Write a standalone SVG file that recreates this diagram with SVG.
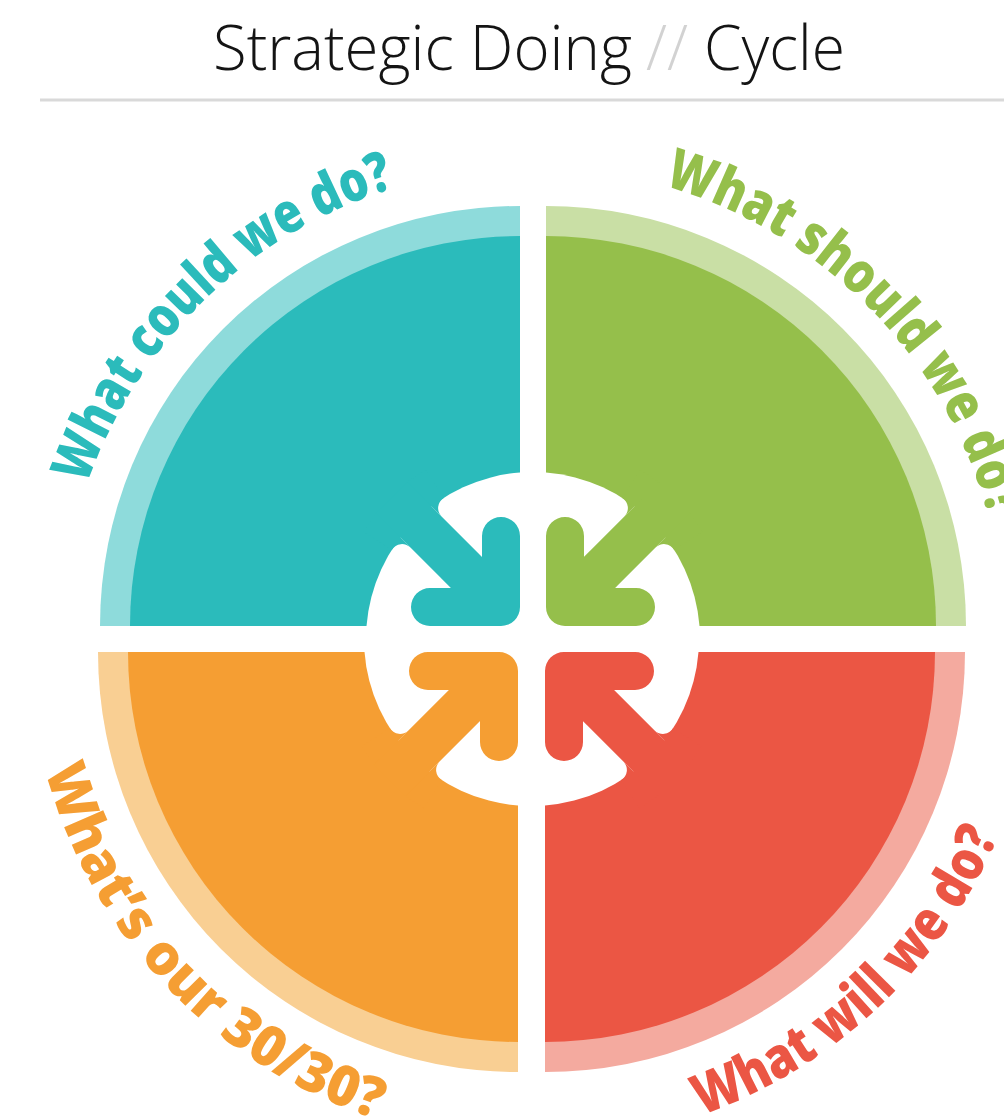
<svg xmlns="http://www.w3.org/2000/svg" xmlns:xlink="http://www.w3.org/1999/xlink" width="1004" height="1119" viewBox="0 0 1004 1119">
  <style>
    .title { font-family: "Open Sans", "Liberation Sans", sans-serif; font-weight: 300; font-size: 62px; fill: #141414; }
    .slash { fill: #d2d2d2; }
    .label { font-family: "Open Sans", "Liberation Sans", sans-serif; font-weight: 800; font-size: 56px; text-anchor: middle; }
    .hub { fill: #ffffff; }
    .arrow { fill: none; stroke-width: 38; stroke-linecap: round; stroke-linejoin: round; }
    .teal .ring { fill: #8edbdb; } .teal .fill { fill: #2bbbbb; } .teal .arrow { stroke: #2bbbbb; } .teal text { fill: #2bbbbb; }
    .green .ring { fill: #c9dfa5; } .green .fill { fill: #95bf4b; } .green .arrow { stroke: #95bf4b; } .green text { fill: #95bf4b; }
    .orange .ring { fill: #f9cf93; } .orange .fill { fill: #f59e33; } .orange .arrow { stroke: #f59e33; } .orange text { fill: #f59e33; }
    .red .ring { fill: #f4aa9f; } .red .fill { fill: #eb5644; } .red .arrow { stroke: #eb5644; } .red text { fill: #eb5644; }
  </style>
  <defs>
    <!-- label baselines: arcs around the hub centre (533,639), each label centred on its arc -->
    <path id="arc-could" d="M63.6 589.7 A472 472 0 0 1 500.1 168.1"/>
    <path id="arc-should" d="M578.2 169.2 A472 472 0 0 1 1003.5 602.0"/>
    <path id="arc-thirty" d="M28.9 669.8 A505 505 0 0 0 475.8 1140.8"/>
    <path id="arc-will" d="M561.6 1143.2 A505 505 0 0 0 1034.5 698.4"/>
  </defs>

  <rect width="1004" height="1119" fill="#ffffff"/>

  <g id="title">
    <text class="title" x="213" y="70" textLength="419" lengthAdjust="spacingAndGlyphs">Strategic Doing</text>
    <text class="title slash" x="646" y="70" textLength="42" lengthAdjust="spacingAndGlyphs">//</text>
    <text class="title" x="704" y="70" textLength="141" lengthAdjust="spacingAndGlyphs">Cycle</text>
    <path d="M40 100 H1004" stroke="#d9d9d9" stroke-width="3"/>
  </g>

  <!-- each quadrant is drawn in local coordinates (upper-left quarter) and mirrored into place -->
  <g id="node-could" class="teal">
    <g transform="translate(533 639)">
      <path class="ring" d="M-13 -13 V-433 A420 420 0 0 0 -433 -13 Z"/>
      <path class="fill" d="M-13 -13 V-403 A390 390 0 0 0 -403 -13 Z"/>
      <path class="hub" d="M-13 -13 V-166.5 A167 167 0 0 0 -166.5 -13 Z"/>
      <path class="fill" d="M-16.3 -47.4 L-125.9 -157 L-157 -125.9 L-47.4 -16.3 Z"/>
      <path class="fill" d="M-91.4 -122.5 L-125.9 -157 L-107.2 -169.3 L-89.3 -141.1 A12 12 0 0 0 -91.4 -122.5 Z"/>
      <path class="fill" d="M-122.5 -91.4 L-157 -125.9 L-169.3 -107.2 L-141.1 -89.3 A12 12 0 0 1 -122.5 -91.4 Z"/>
      <path class="arrow" d="M-32 -103 V-32 H-103"/>
    </g>
    <text class="label"><textPath xlink:href="#arc-could" href="#arc-could" startOffset="50%" textLength="445" lengthAdjust="spacingAndGlyphs">What could we do?</textPath></text>
  </g>

  <g id="node-should" class="green">
    <g transform="translate(533 639) scale(-1 1)">
      <path class="ring" d="M-13 -13 V-433 A420 420 0 0 0 -433 -13 Z"/>
      <path class="fill" d="M-13 -13 V-403 A390 390 0 0 0 -403 -13 Z"/>
      <path class="hub" d="M-13 -13 V-166.5 A167 167 0 0 0 -166.5 -13 Z"/>
      <path class="fill" d="M-16.3 -47.4 L-125.9 -157 L-157 -125.9 L-47.4 -16.3 Z"/>
      <path class="fill" d="M-91.4 -122.5 L-125.9 -157 L-107.2 -169.3 L-89.3 -141.1 A12 12 0 0 0 -91.4 -122.5 Z"/>
      <path class="fill" d="M-122.5 -91.4 L-157 -125.9 L-169.3 -107.2 L-141.1 -89.3 A12 12 0 0 1 -122.5 -91.4 Z"/>
      <path class="arrow" d="M-32 -103 V-32 H-103"/>
    </g>
    <text class="label"><textPath xlink:href="#arc-should" href="#arc-should" startOffset="50%" textLength="486" lengthAdjust="spacingAndGlyphs">What should we do?</textPath></text>
  </g>

  <g id="node-thirty" class="orange">
    <g transform="translate(531 639) scale(1 -1)">
      <path class="ring" d="M-13 -13 V-433 A420 420 0 0 0 -433 -13 Z"/>
      <path class="fill" d="M-13 -13 V-403 A390 390 0 0 0 -403 -13 Z"/>
      <path class="hub" d="M-13 -13 V-166.5 A167 167 0 0 0 -166.5 -13 Z"/>
      <path class="fill" d="M-16.3 -47.4 L-125.9 -157 L-157 -125.9 L-47.4 -16.3 Z"/>
      <path class="fill" d="M-91.4 -122.5 L-125.9 -157 L-107.2 -169.3 L-89.3 -141.1 A12 12 0 0 0 -91.4 -122.5 Z"/>
      <path class="fill" d="M-122.5 -91.4 L-157 -125.9 L-169.3 -107.2 L-141.1 -89.3 A12 12 0 0 1 -122.5 -91.4 Z"/>
      <path class="arrow" d="M-32 -103 V-32 H-103"/>
    </g>
    <text class="label"><textPath xlink:href="#arc-thirty" href="#arc-thirty" startOffset="50%" textLength="502" lengthAdjust="spacingAndGlyphs">What’s our 30/30?</textPath></text>
  </g>

  <g id="node-will" class="red">
    <g transform="translate(532 639) scale(-1 -1)">
      <path class="ring" d="M-13 -13 V-433 A420 420 0 0 0 -433 -13 Z"/>
      <path class="fill" d="M-13 -13 V-403 A390 390 0 0 0 -403 -13 Z"/>
      <path class="hub" d="M-13 -13 V-166.5 A167 167 0 0 0 -166.5 -13 Z"/>
      <path class="fill" d="M-16.3 -47.4 L-125.9 -157 L-157 -125.9 L-47.4 -16.3 Z"/>
      <path class="fill" d="M-91.4 -122.5 L-125.9 -157 L-107.2 -169.3 L-89.3 -141.1 A12 12 0 0 0 -91.4 -122.5 Z"/>
      <path class="fill" d="M-122.5 -91.4 L-157 -125.9 L-169.3 -107.2 L-141.1 -89.3 A12 12 0 0 1 -122.5 -91.4 Z"/>
      <path class="arrow" d="M-32 -103 V-32 H-103"/>
    </g>
    <text class="label"><textPath xlink:href="#arc-will" href="#arc-will" startOffset="50%" textLength="419" lengthAdjust="spacingAndGlyphs">What will we do?</textPath></text>
  </g>

  <g id="connectors"/>
</svg>
